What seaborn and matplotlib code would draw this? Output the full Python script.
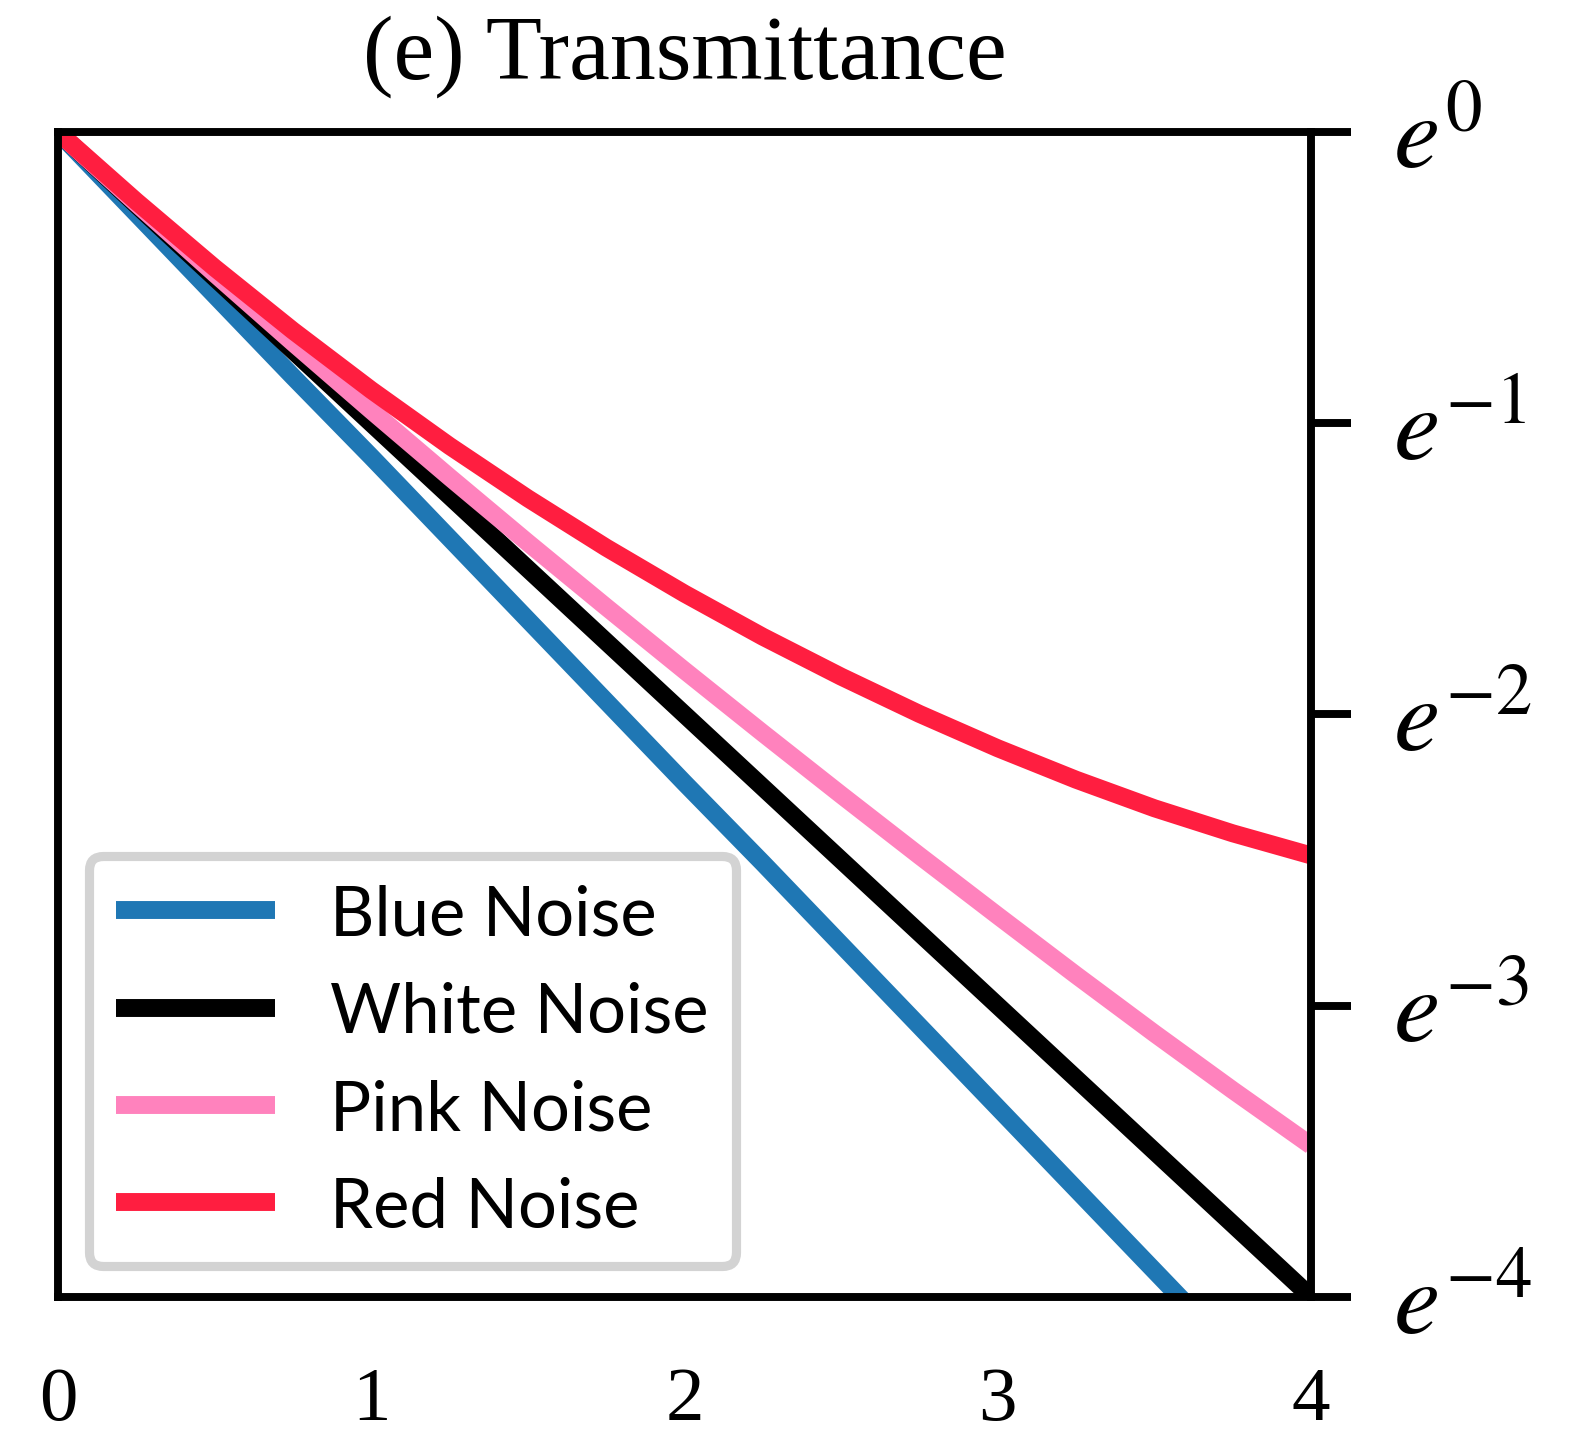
import numpy as np
import pandas as pd
import matplotlib
matplotlib.use("Agg")
import matplotlib.pyplot as plt
import seaborn as sns
from matplotlib.ticker import NullLocator

# ---- data (log-transmittance, ln T) ----
x_vals = [0.0, 0.25, 0.5, 0.75, 1.0, 1.25, 1.5, 1.75, 2.0, 2.25, 2.5, 2.75,
          3.0, 3.25, 3.5, 3.75, 4.0]
blue_ln = [0.0, -0.28, -0.56, -0.84, -1.115, -1.395, -1.675, -1.955, -2.235,
           -2.51, -2.79, -3.07, -3.35, -3.63, -3.91, -4.19, -4.46]
white_ln = [0.0, -0.25, -0.5, -0.75, -1.0, -1.25, -1.5, -1.75, -2.0, -2.25,
            -2.5, -2.75, -3.0, -3.25, -3.5, -3.75, -4.0]
pink_ln = [0.0, -0.245, -0.486, -0.723, -0.956, -1.185, -1.41, -1.631, -1.849,
           -2.064, -2.276, -2.485, -2.691, -2.895, -3.095, -3.29, -3.48]
red_ln = [0.0, -0.238, -0.466, -0.682, -0.886, -1.078, -1.258, -1.427, -1.585,
          -1.733, -1.870, -1.998, -2.116, -2.224, -2.322, -2.408, -2.484]

series_names = ["Blue Noise", "White Noise", "Pink Noise", "Red Noise"]
series_colors = ["#1f77b4", "#000000", "#ff82bd", "#ff1e40"]
ytick_exps = [0, -1, -2, -3, -4]
ytick_labels = [r"$e^{0}$", r"$e^{-1}$", r"$e^{-2}$", r"$e^{-3}$", r"$e^{-4}$"]
xtick_vals = [0, 1, 2, 3, 4]
title_text = "(e) Transmittance"

rows = []
for name, vals in zip(series_names, [blue_ln, white_ln, pink_ln, red_ln]):
    for xv, lv in zip(x_vals, vals):
        rows.append({"x": xv, "T": np.exp(lv), "series": name})
df = pd.DataFrame(rows)

sns.set_style("white")
plt.rcParams["font.family"] = ["Liberation Serif", "DejaVu Serif"]
plt.rcParams["mathtext.fontset"] = "stix"
plt.rcParams["text.color"] = "black"
plt.rcParams["xtick.color"] = "black"
plt.rcParams["ytick.color"] = "black"
plt.rcParams["axes.labelcolor"] = "black"
plt.rcParams["lines.solid_capstyle"] = "butt"
plt.rcParams["lines.solid_joinstyle"] = "round"

fig = plt.figure(figsize=(5.25, 4.7933), dpi=300)
ax = fig.add_axes([0.0368, 0.0974, 0.7956, 0.8101])

sns.lineplot(data=df, x="x", y="T", hue="series", hue_order=series_names,
             palette=series_colors, linewidth=4.3, ax=ax, sort=False,
             estimator=None)

ax.set_yscale("log", base=np.e)
ax.set_xlim(0, 4)
ax.set_ylim(np.exp(-4), np.exp(0))
ax.set_yticks(np.exp(ytick_exps))
ax.set_yticklabels(ytick_labels, fontsize=25, color="black")
ax.yaxis.set_minor_locator(NullLocator())
ax.set_xticks(xtick_vals)
ax.set_xticklabels([str(v) for v in xtick_vals], fontsize=18.5, color="black")
ax.yaxis.tick_right()
ax.set_xlabel("")
ax.set_ylabel("")

for sp in ax.spines.values():
    sp.set_visible(True)
    sp.set_linewidth(1.9)
    sp.set_color("black")
ax.tick_params(axis="both", which="major", direction="out", length=9.6,
               width=1.9, color="black")
ax.tick_params(axis="y", pad=10)
ax.tick_params(axis="x", pad=7)

ax.set_title(title_text, fontsize=22, pad=13, color="black")

leg = ax.legend(loc="lower left", handlelength=2.3,
                handletextpad=0.8, labelspacing=0.5, borderaxespad=0.45,
                fancybox=True, framealpha=1.0, edgecolor="#d3d3d3",
                prop={"family": ["Lato", "DejaVu Sans"], "size": 16.5})
leg.get_frame().set_linewidth(2.2)
for line in leg.get_lines():
    line.set_linewidth(4.3)
    line.set_solid_capstyle("butt")
for t in leg.get_texts():
    t.set_color("black")

fig.savefig("out.png", dpi=300)
